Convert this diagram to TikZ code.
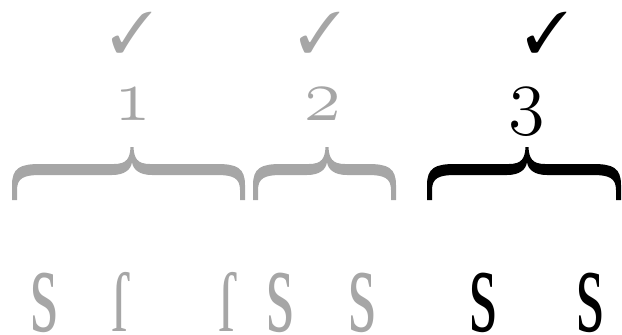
\documentclass[tikz,border=0pt]{standalone}
\usepackage{pifont}
\usepackage{fontspec}
\newfontfamily\sfnt{Liberation Serif}
\definecolor{oldgray}{HTML}{A6A6A6}
% filled brace: left end, tip, right end, colour
\newcommand{\bracefill}[4]{\fill[#4] (#2-1.5,147) .. controls (#2-2,158) and (#2-5,164) .. (#2-18,164) -- (#1+28,164) .. controls (#1+8,164) and (#1,168) .. (#1,185) -- (#1,200) -- (#1+5,200) -- (#1+5,190) .. controls (#1+5,178) and (#1+12,175) .. (#1+28,175) -- (#2-20,175) .. controls (#2-8,175) and (#2-1,170) .. (#2,162) .. controls (#2+1,170) and (#2+8,175) .. (#2+20,175) -- (#3-28,175) .. controls (#3-12,175) and (#3-5,178) .. (#3-5,190) -- (#3-5,200) -- (#3,200) -- (#3,185) .. controls (#3,168) and (#3-8,164) .. (#3-28,164) -- (#2+18,164) .. controls (#2+5,164) and (#2+2,158) .. (#2+1.5,147) -- cycle;}
\begin{document}
\begin{tikzpicture}[x=1pt,y=-1pt,inner sep=0pt,ck/.style={font=\Huge,scale=2.3},num/.style={font=\Huge,scale=3,anchor=base},rs/.style={font=\sfnt\fontsize{124}{130}\selectfont,xscale=0.58,anchor=base},ls/.style={font=\sfnt\fontsize{84}{90}\selectfont,xscale=0.7,anchor=base}]
\useasboundingbox (0,0) rectangle (622,335);
\node[ck,oldgray] (c1) at (132,33) {\ding{51}};
\node[ck,oldgray] (c2) at (320,33) {\ding{51}};
\node[ck] (c3) at (547,33) {\ding{51}};
\node[num,oldgray] (n1) at (133,120) {\legacyoldstylenums{1}};
\node[num,oldgray] (n2) at (323,120) {\legacyoldstylenums{2}};
\node[num] (n3) at (527,120) {\legacyoldstylenums{3}};
\bracefill{12}{132}{245}{oldgray}
\bracefill{253}{327}{396}{oldgray}
\bracefill{427}{527}{621}{black}
\node[rs,oldgray] (s1) at (44,331) {s};
\node[ls,oldgray] (l1) at (120,331) {ſ};
\node[ls,oldgray] (l2) at (227,331) {ſ};
\node[rs,oldgray] (s2) at (280,331) {s};
\node[rs,oldgray] (s3) at (362,331) {s};
\node[rs] (s4) at (483,331) {s};
\node[rs] (s5) at (590,331) {s};
\end{tikzpicture}
\end{document}
